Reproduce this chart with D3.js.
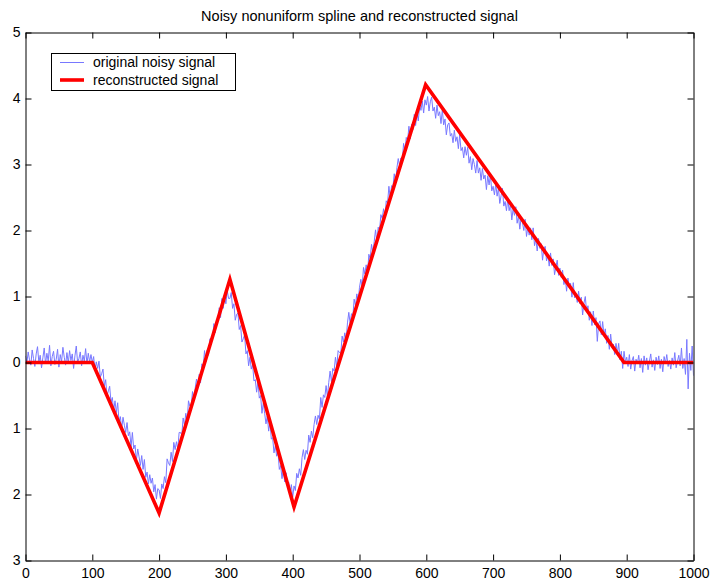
<!DOCTYPE html>
<html><head><meta charset="utf-8">
<script src="https://cdn.jsdelivr.net/npm/d3@7"></script>
<style>
html,body{margin:0;padding:0;background:#fff;}
svg{display:block;font-family:"Liberation Sans",Arial,Helvetica,sans-serif;}
</style>
</head><body>
<svg id="chart" width="713" height="583"></svg>
<script>
const chartTitle = "Noisy nonuniform spline and reconstructed signal";
const legendLabels = ["original noisy signal", "reconstructed signal"];
const xTickValues = [0,100,200,300,400,500,600,700,800,900,1000];
const xTickLabels = ["0","100","200","300","400","500","600","700","800","900","1000"];
const yTickValues = [5,4,3,2,1,0,-1,-2,-3];
const yTickLabels = ["5","4","3","2","1","0","1","2","3"];

// original noisy signal, one value every 2 samples (x = 0..1000)
const sampleStep = 2;
const noisySignal = [
 0.10,-0.01,0.16,0.04,-0.04,0.19,0.06,-0.06,0.13,0.24,
 0.00,0.11,-0.08,0.07,0.22,-0.02,0.14,0.02,0.26,-0.05,
 0.09,0.17,-0.03,0.05,0.20,-0.07,0.12,0.01,0.23,0.08,
 -0.04,0.15,-0.01,0.18,0.03,0.13,-0.09,0.10,0.25,0.00,
 0.06,0.16,-0.05,0.11,0.02,0.21,-0.02,0.14,0.01,0.12,
 0.00,0.09,-0.12,0.01,-0.09,0.02,-0.22,-0.17,-0.10,-0.36,
 -0.26,-0.51,-0.43,-0.36,-0.60,-0.53,-0.73,-0.58,-0.76,-0.61,
 -0.90,-0.82,-1.01,-0.83,-0.95,-1.06,-0.91,-1.11,-1.05,-1.28,
 -1.06,-1.31,-1.25,-1.49,-1.31,-1.43,-1.56,-1.41,-1.62,-1.47,
 -1.74,-1.66,-1.84,-1.70,-1.83,-1.75,-1.96,-1.85,-2.07,-1.91,
 -1.93,-2.06,-1.84,-1.91,-1.73,-1.82,-1.46,-1.52,-1.56,-1.36,
 -1.50,-1.21,-1.32,-1.20,-1.31,-1.06,-1.06,-1.10,-0.84,-0.95,
 -0.77,-0.89,-0.58,-0.66,-0.66,-0.44,-0.58,-0.39,-0.25,-0.37,
 -0.18,-0.31,-0.02,-0.07,0.18,0.01,0.19,0.11,0.36,0.36,
 0.35,0.59,0.45,0.65,0.63,0.83,0.68,0.97,0.82,0.99,
 0.89,1.09,0.97,
 0.97,1.06,0.82,0.89,0.64,0.73,0.75,0.50,0.56,0.31,
 0.36,0.42,0.13,0.18,-0.05,0.08,-0.10,-0.03,-0.28,-0.26,
 -0.45,-0.29,-0.54,-0.50,-0.77,-0.61,-0.77,-0.93,-0.81,-1.04,
 -0.90,-1.16,-1.14,-1.37,-1.26,-1.42,-1.36,-1.62,-1.56,-1.76,
 -1.61,-1.81,-1.67,-1.85,-1.81,-2.01,-1.85,-2.04,
 -1.87,-1.94,-1.68,-1.75,-1.61,-1.71,-1.44,-1.32,-1.47,-1.33,
 -1.39,-1.10,-1.21,-1.04,-1.14,-0.94,-0.81,-0.94,-0.80,-0.86,
 -0.53,-0.68,-0.49,-0.53,-0.35,-0.52,-0.30,-0.13,-0.29,-0.09,
 -0.13,0.08,-0.07,0.18,0.15,0.14,0.40,0.31,0.45,0.34,
 0.60,0.76,0.59,0.74,0.69,0.96,0.86,1.04,0.93,1.14,
 1.26,1.15,1.44,1.34,1.48,1.35,1.64,1.57,1.79,1.67,
 1.83,2.01,1.83,2.05,2.00,2.24,2.18,2.33,2.20,2.45,
 2.41,2.67,2.49,2.68,2.65,2.86,2.72,2.95,3.09,2.98,
 3.10,3.05,3.32,3.21,3.41,3.36,3.58,3.39,3.61,3.53,
 3.76,3.59,3.79,3.66,3.89,3.82,3.96,3.78,3.98,
 3.90,4.03,3.81,3.95,4.02,3.81,3.87,3.70,3.90,3.74,
 3.80,3.62,3.83,3.60,3.69,3.45,3.60,3.63,3.43,3.47,
 3.33,3.52,3.35,3.42,3.24,3.45,3.21,3.26,3.10,3.27,
 3.14,3.26,3.02,3.12,2.92,3.09,3.00,2.87,3.06,2.87,
 2.95,2.76,2.94,2.78,2.84,2.62,2.83,2.69,2.84,2.60,
 2.67,2.54,2.71,2.52,2.64,2.41,2.53,2.64,2.37,2.44,
 2.30,2.48,2.30,2.40,2.16,2.33,2.23,2.36,2.11,2.22,
 2.02,2.20,2.12,2.00,2.17,1.91,2.05,1.93,2.04,1.86,
 2.04,1.77,1.87,1.69,1.88,1.73,1.80,1.55,1.73,1.76,
 1.54,1.63,1.46,1.66,1.47,1.57,1.33,1.45,1.55,1.32,
 1.43,1.29,1.40,1.18,1.28,1.08,1.28,1.14,1.20,0.99,
 1.21,0.98,1.04,0.91,1.08,0.89,0.99,0.72,0.90,1.00,
 0.77,0.86,0.64,0.77,0.56,0.78,0.57,0.68,0.32,0.59,
 0.63,0.42,0.62,0.41,0.51,0.29,0.41,0.20,0.43,0.23,
 0.28,0.12,0.29,0.14,0.29,0.04,0.17,-0.09,0.17,0.01,
 0.08,-0.06,0.12,-0.10,0.03,0.09,-0.13,0.05,-0.02,0.11,
 -0.08,0.06,-0.15,0.10,-0.04,0.07,-0.11,0.02,0.13,-0.07,
 0.04,-0.12,0.08,-0.03,0.10,-0.09,0.05,-0.14,0.09,-0.01,
 0.12,-0.06,0.03,-0.10,0.07,-0.04,0.15,-0.08,0.02,0.11,
 -0.05,0.22,-0.09,0.06,-0.18,0.35,-0.40,0.14,-0.12,0.25,-0.20
];

// reconstructed (piecewise linear) signal knots
const knotX = [0, 100, 200, 306, 402, 599, 896, 1000];
const knotY = [0, 0, -2.28, 1.26, -2.19, 4.21, 0, 0];

const W = 713, H = 583;
const plot = {left: 25.5, right: 693.5, top: 32.5, bottom: 560.5};
const FONT = 14;

const svg = d3.select("#chart");
const x = d3.scaleLinear().domain([0, 1000]).range([plot.left, plot.right]);
const y = d3.scaleLinear().domain([-3, 5]).range([plot.bottom, plot.top]);

// title
svg.append("text")
  .attr("x", (plot.left + plot.right) / 2)
  .attr("y", 21)
  .attr("text-anchor", "middle")
  .attr("font-size", 14.5)
  .attr("fill", "#000")
  .text(chartTitle);

// data lines
const clip = svg.append("clipPath").attr("id", "plotclip")
  .append("rect").attr("x", plot.left).attr("y", plot.top)
  .attr("width", plot.right - plot.left).attr("height", plot.bottom - plot.top);

const noisyPts = noisySignal.map((v, i) => [i * sampleStep, v]);
const line = d3.line().x(d => x(d[0])).y(d => y(d[1]));

const gData = svg.append("g").attr("clip-path", "url(#plotclip)");
gData.append("path")
  .datum(noisyPts)
  .attr("d", line)
  .attr("fill", "none")
  .attr("stroke", "#7878ff")
  .attr("stroke-width", 1)
  .attr("stroke-linejoin", "round");

const recPts = knotX.map((k, i) => [k, knotY[i]]);
gData.append("path")
  .datum(recPts)
  .attr("d", line)
  .attr("fill", "none")
  .attr("stroke", "#ff0000")
  .attr("stroke-width", 3.6)
  .attr("stroke-linejoin", "miter")
  .attr("stroke-miterlimit", 10);

// axes (MATLAB box with inward ticks)
const TICK = 6;
const axB = d3.axisBottom(x).tickValues(xTickValues)
  .tickFormat((d, i) => xTickLabels[i]).tickSizeInner(-TICK).tickSizeOuter(0).tickPadding(8);
const axT = d3.axisTop(x).tickValues(xTickValues)
  .tickFormat("").tickSizeInner(-TICK).tickSizeOuter(0);
const axL = d3.axisLeft(y).tickValues(yTickValues)
  .tickFormat((d, i) => yTickLabels[i]).tickSizeInner(-TICK).tickSizeOuter(0).tickPadding(5);
const axR = d3.axisRight(y).tickValues(yTickValues)
  .tickFormat("").tickSizeInner(-TICK).tickSizeOuter(0);

function style(g) {
  g.selectAll("path.domain").attr("stroke", "#000").attr("stroke-width", 1);
  g.selectAll(".tick line").attr("stroke", "#000").attr("stroke-width", 1);
  g.selectAll(".tick text").attr("fill", "#000").attr("font-size", FONT)
    .attr("font-family", '"Liberation Sans",Arial,Helvetica,sans-serif');
}
svg.append("g").attr("transform", `translate(0,${plot.bottom})`).call(axB).call(style);
svg.append("g").attr("transform", `translate(0,${plot.top})`).call(axT).call(style);
svg.append("g").attr("transform", `translate(${plot.left},0)`).call(axL).call(style);
svg.append("g").attr("transform", `translate(${plot.right},0)`).call(axR).call(style);

// legend
const leg = svg.append("g");
leg.append("rect")
  .attr("x", 51.5).attr("y", 53.5).attr("width", 184).attr("height", 37)
  .attr("fill", "#fff").attr("stroke", "#000").attr("stroke-width", 1);
const legStyles = [
  {stroke: "#7878ff", width: 1},
  {stroke: "#ff0000", width: 3.6}
];
legendLabels.forEach((lab, i) => {
  const cy = 62.5 + i * 17.5;
  leg.append("line").attr("x1", 60).attr("x2", 84).attr("y1", cy).attr("y2", cy)
    .attr("stroke", legStyles[i].stroke).attr("stroke-width", legStyles[i].width);
  leg.append("text").attr("x", 93).attr("y", cy).attr("dy", "0.35em")
    .attr("font-size", FONT).attr("fill", "#000").text(lab);
});
</script>
</body></html>
